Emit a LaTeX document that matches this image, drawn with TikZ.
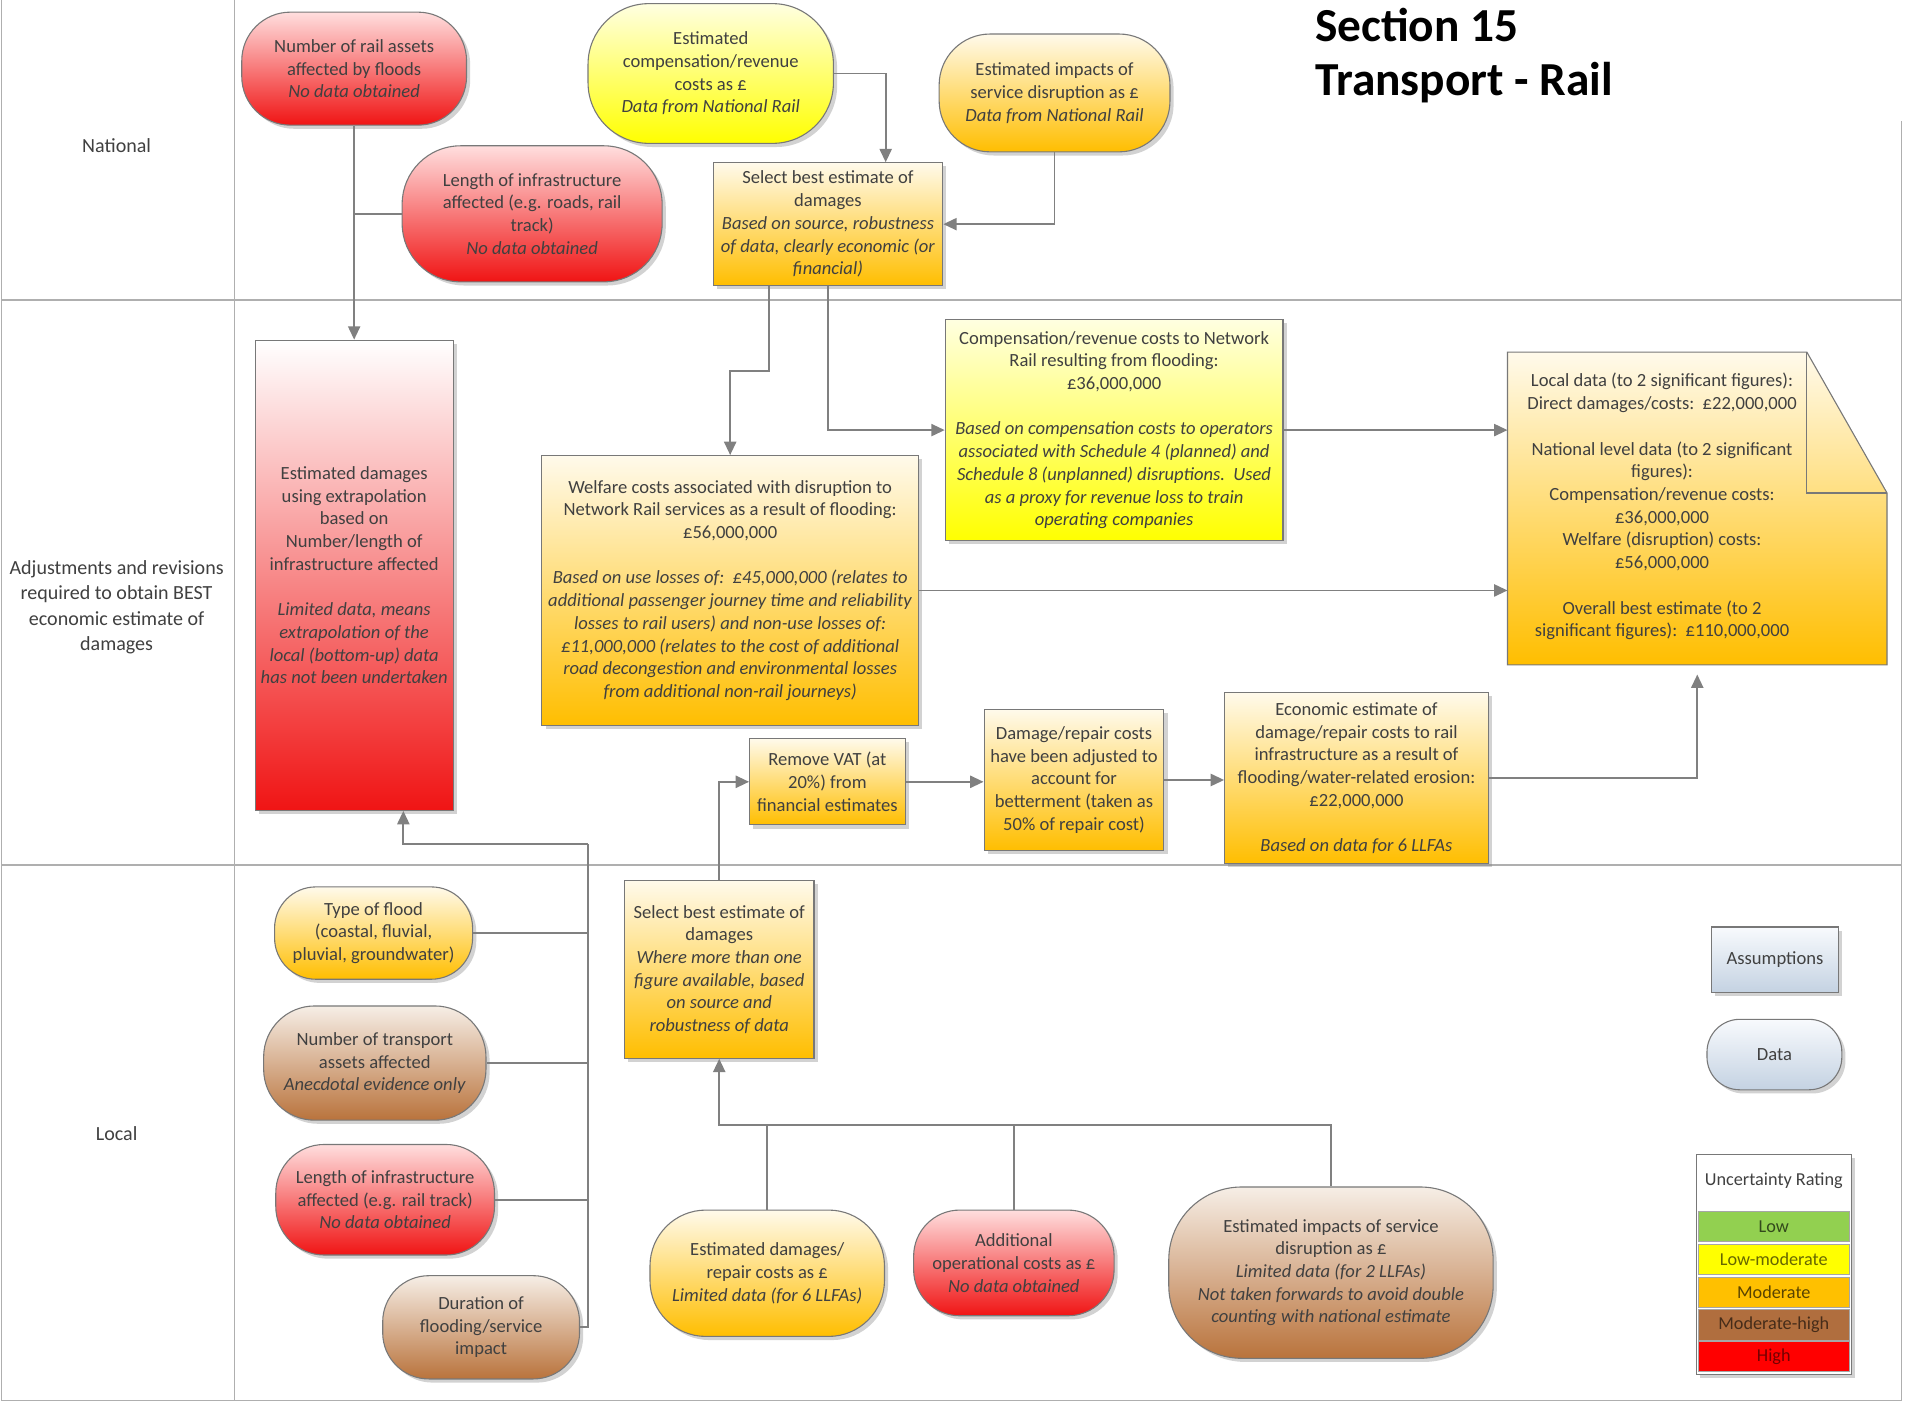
\documentclass[tikz,border=0pt]{standalone}
\usepackage{fontspec}
\setmainfont{Carlito}
\usetikzlibrary{shadows,arrows.meta,calc}
\definecolor{redT}{RGB}{255,222,222}
\definecolor{redB}{RGB}{240,20,20}
\definecolor{yelT}{RGB}{255,255,225}
\definecolor{yelB}{RGB}{255,255,0}
\definecolor{oraT}{RGB}{255,250,235}
\definecolor{oraB}{RGB}{255,190,0}
\definecolor{broT}{RGB}{246,238,230}
\definecolor{broB}{RGB}{185,115,60}
\definecolor{bluT}{RGB}{248,250,253}
\definecolor{bluB}{RGB}{196,210,226}
\definecolor{lineC}{RGB}{128,128,128}
\definecolor{laneC}{RGB}{175,175,175}
\definecolor{boxC}{RGB}{120,120,120}
\definecolor{txtC}{RGB}{64,64,64}
\definecolor{lowC}{RGB}{146,208,80}
\definecolor{lmC}{RGB}{255,255,0}
\definecolor{modC}{RGB}{255,192,0}
\definecolor{mhC}{RGB}{176,110,62}
\definecolor{highC}{RGB}{255,0,0}
\begin{document}
\begin{tikzpicture}[x=1pt,y=-1pt,
  base/.style={draw=boxC, line width=0.9pt, align=center, inner sep=1pt,
    font=\fontsize{15.3}{18.7}\selectfont, text=txtC,
    drop shadow={shadow xshift=3pt,shadow yshift=-3pt,opacity=0.35}},
  red/.style={base, top color=redT, bottom color=redB},
  yel/.style={base, top color=yelT, bottom color=yelB},
  ora/.style={base, top color=oraT, bottom color=oraB},
  bro/.style={base, top color=broT, bottom color=broB},
  blu/.style={base, top color=bluT, bottom color=bluB},
  lane/.style={draw=laneC, line width=1pt},
  wire/.style={draw=lineC, line width=1.5pt},
  conn/.style={draw=lineC, line width=1.5pt, -{Triangle[length=11pt,width=10pt]}},
  lanelabel/.style={align=center, font=\fontsize{16.5}{21}\selectfont, text=txtC},
  legrow/.style={draw=lineC!70, line width=0.6pt, minimum width=124, minimum height=25, inner sep=0pt,
    font=\fontsize{15}{16}\selectfont}
]
\useasboundingbox (0,0) rectangle (1568,1156);
\fill[white] (0,0) rectangle (1568,1156);

% lanes
\draw[lane] (1,0) -- (1,1153) -- (1565,1153) -- (1565,100);
\draw[lane] (193,0) -- (193,1153);
\draw[lane] (1,247) -- (1565,247);
\draw[lane] (1,712) -- (1565,712);
\node[lanelabel] (labN) at (96,120) {National};
\node[lanelabel] (labA) at (96,500) {Adjustments and revisions\\required to obtain BEST\\economic estimate of\\damages};
\node[lanelabel] (labL) at (96,933) {Local};

% title
\node[anchor=west, font=\fontsize{39}{44}\selectfont\bfseries] (t1) at (1079,21) {Section 15};
\node[anchor=west, font=\fontsize{39}{44}\selectfont\bfseries] (t2) at (1079,68) {Transport - Rail};

% national lane
\node[red, minimum width=185, minimum height=93, rounded corners=40] (N1) at (291.5,56.5)
  {Number of rail assets\\affected by floods\\\textit{No data obtained}};
\node[red, minimum width=214, minimum height=112, rounded corners=48] (N2) at (438,176)
  {Length of infrastructure\\affected (e.g. roads, rail\\track)\\\textit{No data obtained}};
\node[yel, minimum width=202, minimum height=115, rounded corners=50] (N3) at (585,60.5)
  {Estimated\\compensation/revenue\\costs as £\\\textit{Data from National Rail}};
\node[ora, minimum width=190, minimum height=97, rounded corners=42] (N4) at (868,76.5)
  {Estimated impacts of\\service disruption as £\\\textit{Data from National Rail}};
\node[ora, minimum width=189, minimum height=101] (S1) at (681.5,184.5)
  {Select best estimate of\\damages\\\textit{Based on source, robustness}\\\textit{of data, clearly economic (or}\\\textit{financial)}};

% adjustments lane
\node[base, top color=white, bottom color=redB, minimum width=163, minimum height=387] (E1) at (291.5,473.5)
  {Estimated damages\\using extrapolation\\based on\\Number/length of\\infrastructure affected\\[18.7pt]\textit{Limited data, means}\\\textit{extrapolation of the}\\\textit{local (bottom-up) data}\\\textit{has not been undertaken}};
\node[ora, minimum width=310, minimum height=222] (W1) at (601,486)
  {Welfare costs associated with disruption to\\Network Rail services as a result of flooding:\\£56,000,000\\[18.7pt]\textit{Based on use losses of:\ \ £45,000,000 (relates to}\\\textit{additional passenger journey time and reliability}\\\textit{losses to rail users) and non-use losses of:}\\\textit{£11,000,000 (relates to the cost of additional}\\\textit{road decongestion and environmental losses}\\\textit{from additional non-rail journeys)}};
\node[yel, minimum width=278, minimum height=182] (C1) at (917,354)
  {Compensation/revenue costs to Network\\Rail resulting from flooding:\\£36,000,000\\[18.7pt]\textit{Based on compensation costs to operators}\\\textit{associated with Schedule 4 (planned) and}\\\textit{Schedule 8 (unplanned) disruptions.\ \ Used}\\\textit{as a proxy for revenue loss to train}\\\textit{operating companies}};
\node[ora, minimum width=128, minimum height=71] (V1) at (681,643.5)
  {Remove VAT (at\\20\%) from\\financial estimates};
\node[ora, minimum width=148, minimum height=116] (D1) at (884,642)
  {Damage/repair costs\\have been adjusted to\\account for\\betterment (taken as\\50\% of repair cost)};
\node[ora, minimum width=217, minimum height=141] (EC1) at (1116.5,640.5)
  {Economic estimate of\\damage/repair costs to rail\\infrastructure as a result of\\flooding/water-related erosion:\\£22,000,000\\[18.7pt]\textit{Based on data for 6 LLFAs}};

% note box
\node[minimum width=312, minimum height=257, inner sep=0pt] (L1) at (1397,418.5) {};
\fill[black, opacity=0.3, xshift=3pt, yshift=-3pt] (L1.north west) -- ($(L1.north east)+(-66,0)$) -- ($(L1.north east)+(0,116)$) -- (L1.south east) -- (L1.south west) -- cycle;
\path[draw=boxC, line width=0.9pt, top color=oraT, bottom color=oraB] (L1.north west) -- ($(L1.north east)+(-66,0)$) -- ($(L1.north east)+(0,116)$) -- (L1.south east) -- (L1.south west) -- cycle;
\draw[boxC, line width=0.9pt] ($(L1.north east)+(-66,0)$) -- ($(L1.north east)+(-66,116)$) -- ($(L1.north east)+(0,116)$);
\node[align=center, font=\fontsize{15.3}{18.7}\selectfont, text=txtC] (L1t) at (1368,417)
  {Local data (to 2 significant figures):\\Direct damages/costs:\ \ £22,000,000\\[18.7pt]National level data (to 2 significant\\figures):\\Compensation/revenue costs:\\£36,000,000\\Welfare (disruption) costs:\\£56,000,000\\[18.7pt]Overall best estimate (to 2\\significant figures):\ \ £110,000,000};

% local lane
\node[ora, minimum width=156, minimum height=146] (S2) at (592,798)
  {Select best estimate of\\damages\\\textit{Where more than one}\\\textit{figure available, based}\\\textit{on source and}\\\textit{robustness of data}};
\node[ora, minimum width=163, minimum height=76, rounded corners=34] (T1) at (307.5,768)
  {Type of flood\\(coastal, fluvial,\\pluvial, groundwater)};
\node[bro, minimum width=183, minimum height=94, rounded corners=42] (T2) at (308.5,875)
  {Number of transport\\assets affected\\\textit{Anecdotal evidence only}};
\node[red, minimum width=180, minimum height=91, rounded corners=40] (T3) at (317,987.5)
  {Length of infrastructure\\affected (e.g. rail track)\\\textit{No data obtained}};
\node[bro, minimum width=162, minimum height=85, rounded corners=38] (T4) at (396,1092.5)
  {Duration of\\flooding/service\\impact};
\node[ora, minimum width=193, minimum height=104, rounded corners=46] (B1) at (631.5,1048)
  {Estimated damages/\\repair costs as £\\\textit{Limited data (for 6 LLFAs)}};
\node[red, minimum width=165, minimum height=87, rounded corners=38] (B2) at (834.5,1039.5)
  {Additional\\operational costs as £\\\textit{No data obtained}};
\node[bro, minimum width=267, minimum height=141, rounded corners=60] (B3) at (1095.5,1047.5)
  {Estimated impacts of service\\disruption as £\\\textit{Limited data (for 2 LLFAs)}\\\textit{Not taken forwards to avoid double}\\\textit{counting with national estimate}};

% legend
\node[blu, minimum width=104, minimum height=54] (As) at (1461,790) {Assumptions};
\node[blu, minimum width=111, minimum height=58, rounded corners=27] (Da) at (1460.5,868) {Data};
\node[draw=boxC, line width=0.9pt, fill=white, minimum width=128, minimum height=181, inner sep=0pt,
  drop shadow={shadow xshift=3pt,shadow yshift=-3pt,opacity=0.35}] (UR) at (1460,1040.5) {};
\node[font=\fontsize{15}{16}\selectfont, text=txtC] (URt) at (1460,972) {Uncertainty Rating};
\node[legrow, fill=lowC, text=lowC!35!black] (r1) at (1460,1009.5) {Low};
\node[legrow, fill=lmC, text=lmC!40!black] (r2) at (1460,1036.5) {Low-moderate};
\node[legrow, fill=modC, text=modC!35!black] (r3) at (1460,1063.5) {Moderate};
\node[legrow, fill=mhC, text=mhC!40!black] (r4) at (1460,1090.5) {Moderate-high};
\node[legrow, fill=highC, text=highC!45!black] (r5) at (1460,1116.5) {High};

% connectors national
\draw[conn] (N1.south) -- (E1.north);
\draw[wire] (N2.west) -- (N2.west -| N1.south);
\draw[conn] (N3.east) -| ($(S1.north)+(47.5,0)$);
\draw[conn] (N4.south) |- (S1.east);
\draw[conn] ($(S1.south)+(-48.5,0)$) -- ++(0,70) -| (W1.north);
\draw[conn] (S1.south) |- (C1.west);

% connectors adjustments
\draw[conn] (C1.east) -- (C1.east -| L1.west);
\draw[conn] (W1.east) -- (W1.east -| L1.west);
\draw[conn, shorten >=8pt] (EC1.east) -| (L1.south);
\draw[conn] (S2.north) |- (V1.west);
\draw[conn] (V1.east) -- (V1.east -| D1.west);
\draw[conn] (D1.east) -- (D1.east -| EC1.west);

% local bus
\coordinate (bt) at (484,695);
\draw[wire] (T4.east) -- (T4.east -| bt) -- (bt);
\draw[conn] (bt) -| ($(E1.south)+(40.5,0)$);
\draw[wire] (T1.east) -- (T1.east -| bt);
\draw[wire] (T2.east) -- (T2.east -| bt);
\draw[wire] (T3.east) -- (T3.east -| bt);
\coordinate (lbus) at (592,926);
\draw[conn] (B1.north) |- (lbus) -- (S2.south);
\draw[wire] (B3.north) |- (lbus);
\draw[wire] (B2.north) -- (B2.north |- lbus);
\end{tikzpicture}
\end{document}
